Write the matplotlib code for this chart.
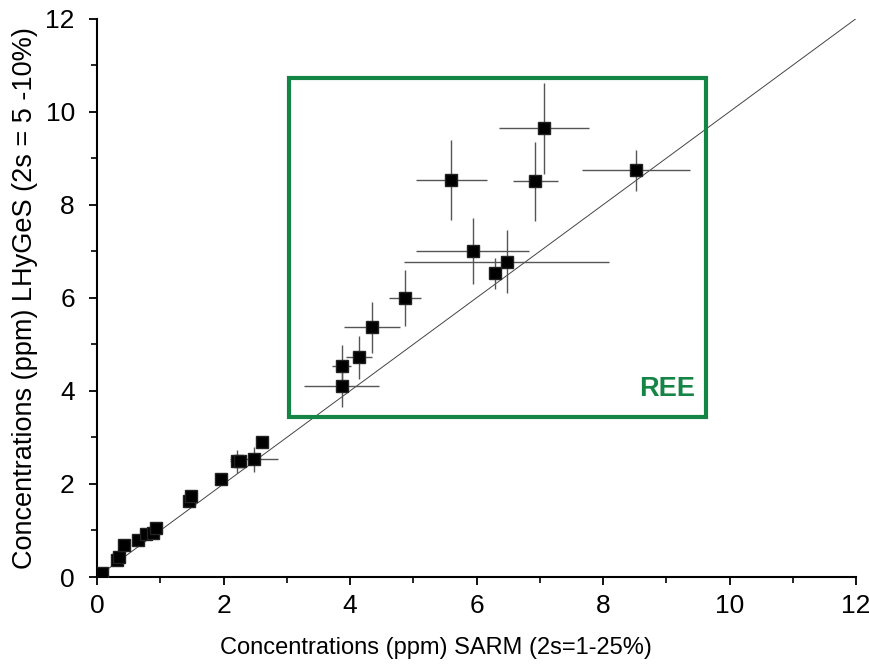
import matplotlib

matplotlib.use('Agg')
import matplotlib.pyplot as plt
from matplotlib.patches import Rectangle
from matplotlib.ticker import MultipleLocator

plt.rcParams['font.family'] = ['Liberation Sans', 'DejaVu Sans']

# SARM reference values (x) vs LHyGeS measured values (y), ppm
sarm = [0.08, 0.32, 0.34, 0.43, 0.65, 0.77, 0.89, 0.93, 1.46, 1.49, 1.96,
        2.22, 2.26, 2.48, 2.61,
        3.87, 3.87, 4.14, 4.35, 4.87, 5.60, 7.07, 6.93, 8.52, 5.94, 6.48, 6.29]
lhyges = [0.09, 0.36, 0.43, 0.69, 0.79, 0.92, 0.94, 1.05, 1.63, 1.74, 2.10,
          2.49, 2.49, 2.53, 2.90,
          4.10, 4.53, 4.72, 5.37, 5.99, 8.54, 9.64, 8.50, 8.74, 7.00, 6.78, 6.53]
sarm_err = [0.0, 0.0, 0.0, 0.0, 0.0, 0.0, 0.0, 0.0, 0.0, 0.0, 0.0,
            0.12, 0.0, 0.38, 0.0,
            0.59, 0.15, 0.20, 0.44, 0.25, 0.56, 0.71, 0.35, 0.85, 0.89, 1.62, 0.10]
lhyges_err = [0.0, 0.0, 0.0, 0.0, 0.0, 0.0, 0.0, 0.0, 0.05, 0.05, 0.0,
              0.25, 0.0, 0.27, 0.0,
              0.45, 0.45, 0.47, 0.55, 0.60, 0.86, 0.97, 0.85, 0.44, 0.71, 0.67, 0.33]

# REE region frame
box_x = (3.04, 9.63)
box_y = (3.43, 10.73)

fig = plt.figure(figsize=(8.7, 6.65), dpi=100)
ax = fig.add_axes([0.1115, 0.1323, 0.8725, 0.8397])

# 1:1 line
ax.plot([0, 12], [0, 12], color='#444444', lw=0.7, zorder=1)

ax.errorbar(sarm, lhyges, xerr=sarm_err, yerr=lhyges_err, fmt='none',
            ecolor='#555555', elinewidth=1.0, capsize=0, zorder=2)
ax.plot(sarm, lhyges, 's', color='black', ms=8, mec='#222222', zorder=3)

ax.add_patch(Rectangle((box_x[0], box_y[0]), box_x[1] - box_x[0], box_y[1] - box_y[0],
                       fill=False, edgecolor='#158545', lw=3, zorder=4))
ax.text(9.45, 4.05, 'REE', color='#158545', fontsize=19.5, fontweight='bold',
        ha='right', va='center')

ax.set_xlim(0, 12)
ax.set_ylim(0, 12)
ax.xaxis.set_major_locator(MultipleLocator(2))
ax.xaxis.set_minor_locator(MultipleLocator(1))
ax.yaxis.set_major_locator(MultipleLocator(2))
ax.yaxis.set_minor_locator(MultipleLocator(1))
ax.spines['top'].set_visible(False)
ax.spines['right'].set_visible(False)
ax.spines['left'].set_linewidth(1.5)
ax.spines['bottom'].set_linewidth(1.5)
ax.tick_params(which='major', direction='out', length=6, width=1.3, labelsize=19)
ax.tick_params(which='minor', direction='out', length=4, width=1.2)
ax.tick_params(axis='x', which='major', pad=6)
ax.tick_params(axis='y', which='major', pad=10)

ax.set_xlabel('Concentrations (ppm) SARM (2s=1-25%)', fontsize=17)
ax.xaxis.set_label_coords(0.447, -0.107)
ax.set_ylabel('Concentrations (ppm) LHyGeS (2s = 5 -10%)', fontsize=19.5, labelpad=5)

fig.savefig('out.png', dpi=100)
